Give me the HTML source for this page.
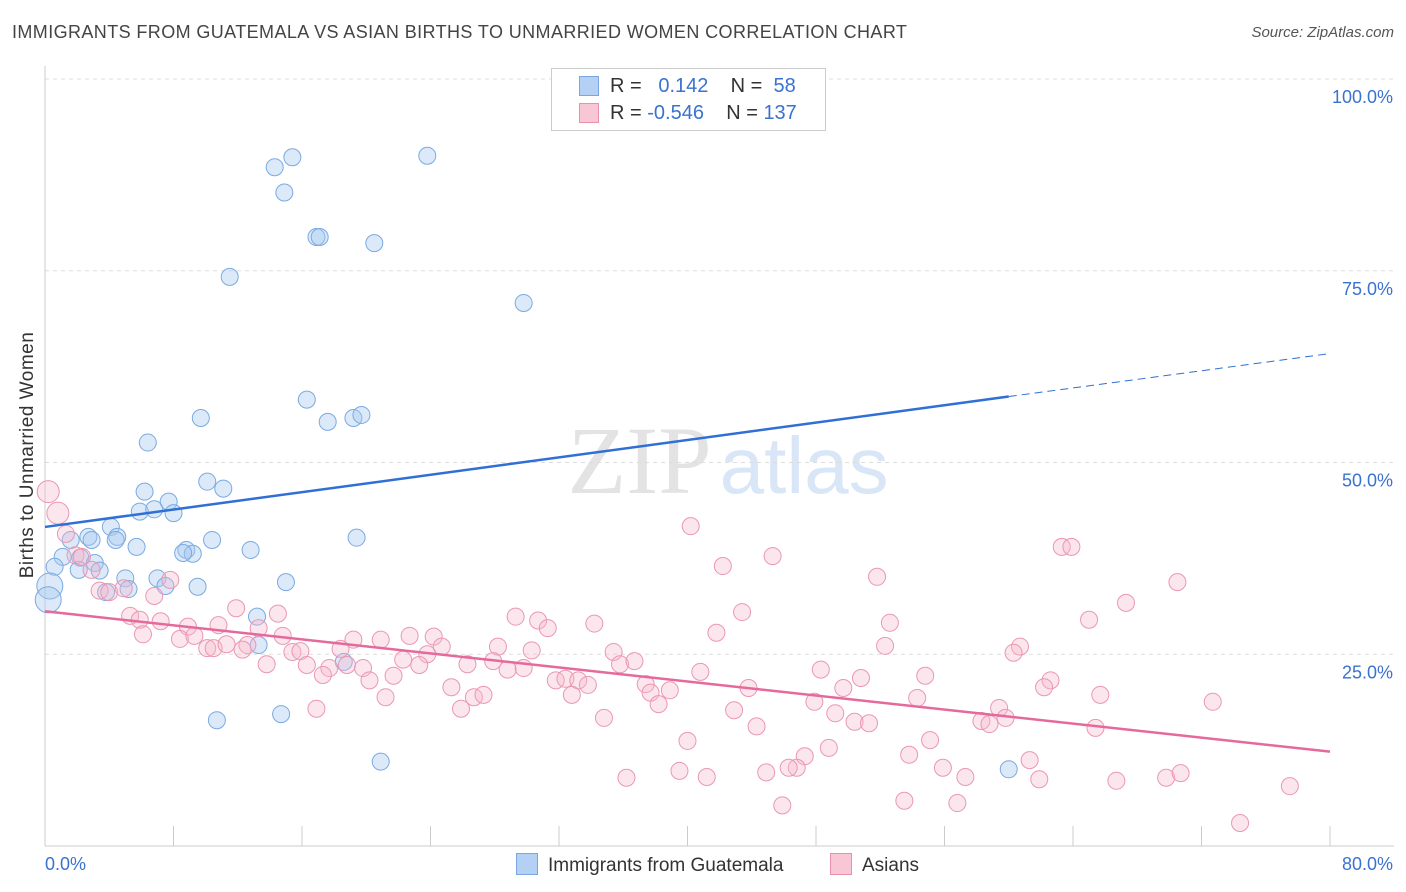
<!DOCTYPE html>
<html><head><meta charset="utf-8">
<style>
body{margin:0;background:#fff;font-family:"Liberation Sans",sans-serif;}
#wrap{position:relative;width:1406px;height:892px;overflow:hidden;}
.t{position:absolute;white-space:nowrap;}
</style></head>
<body>
<div id="wrap">
<div class="t" style="left:12px;top:22px;font-size:18px;letter-spacing:0.4px;color:#444;">IMMIGRANTS FROM GUATEMALA VS ASIAN BIRTHS TO UNMARRIED WOMEN CORRELATION CHART</div>
<div class="t" style="right:12px;top:24px;font-size:15px;color:#555;font-style:italic;">Source: ZipAtlas.com</div>
<div class="t" style="left:28px;top:455px;font-size:19px;letter-spacing:0.5px;color:#333;transform:translate(-50%,-50%) rotate(-90deg);">Births to Unmarried Women</div>
<svg id="svg" width="1406" height="892" style="position:absolute;left:0;top:0"></svg>
<div class="t" style="left:551px;top:68px;width:273px;height:61px;border:1px solid #ccc;background:#fff;font-size:20px;">
 <div style="position:absolute;left:27px;top:7px;width:18px;height:18px;background:#b5d0f5;border:1px solid #7aa7e0;"></div>
 <div class="t" style="left:58px;top:6px;color:#333;">R = &nbsp;&nbsp;<span style="color:#3a72d0">0.142</span>&nbsp;&nbsp;&nbsp; N = &nbsp;<span style="color:#3a72d0">58</span></div>
 <div style="position:absolute;left:27px;top:34px;width:18px;height:18px;background:#f9c6d6;border:1px solid #e891ad;"></div>
 <div class="t" style="left:58px;top:33px;color:#333;">R = <span style="color:#3a72d0">-0.546</span>&nbsp;&nbsp;&nbsp; N = <span style="color:#3a72d0">137</span></div>
</div>
<div class="t" style="left:516px;top:853px;font-size:19px;color:#333;"><span style="display:inline-block;width:20px;height:20px;background:#b5d0f5;border:1px solid #7aa7e0;vertical-align:-4px;margin-right:10px;"></span>Immigrants from Guatemala</div>
<div class="t" style="left:830px;top:853px;font-size:19px;color:#333;"><span style="display:inline-block;width:20px;height:20px;background:#f9c6d6;border:1px solid #e891ad;vertical-align:-4px;margin-right:10px;"></span>Asians</div>
</div>
<script>
const xTickLabels=["0.0%","80.0%"];
const yTicks=[25,50,75,100];
const yTickLabels=["25.0%","50.0%","75.0%","100.0%"];
const blueX=[14.3,15.4,14.9,23.8,16.9,17.1,20.5,11.5,29.8,16.3,9.7,17.6,19.2,19.7,6.4,10.1,11.1,6.2,7.7,5.9,6.8,8.0,4.1,2.7,1.6,2.9,4.5,4.4,10.4,19.4,5.7,8.8,9.2,8.6,12.8,1.1,2.2,3.1,0.6,2.1,3.4,5.0,7.0,7.5,5.2,9.5,15.0,0.3,0.2,3.8,13.2,13.3,18.6,10.7,14.7,20.9,60.0];
const blueY=[88.5,89.8,85.2,90.0,79.4,79.4,78.6,74.2,70.8,58.2,55.8,55.3,55.8,56.2,52.6,47.5,46.6,46.2,44.9,43.6,43.9,43.4,41.6,40.3,39.9,39.9,40.3,39.9,39.9,40.2,39.0,38.6,38.1,38.2,38.6,37.7,37.6,36.9,36.4,36.0,35.9,34.9,34.9,33.9,33.5,33.8,34.4,33.9,32.1,33.1,29.9,26.2,24.0,16.4,17.2,11.0,10.0];
const pinkX=[0.2,0.8,1.3,1.9,2.3,2.9,7.8,3.4,4.0,4.9,6.8,11.9,14.5,5.3,5.9,7.2,8.9,10.8,6.1,8.4,9.3,13.3,14.8,19.2,20.9,22.7,24.2,24.7,10.1,10.5,11.3,12.6,12.3,15.4,15.9,18.4,22.3,23.8,28.2,30.3,13.8,16.3,17.7,18.8,19.8,23.3,26.3,27.9,28.8,29.8,17.3,21.7,20.2,31.8,32.4,33.2,25.3,33.8,35.4,35.8,36.7,37.4,37.7,38.2,38.9,40.8,21.2,26.7,27.3,32.8,25.9,16.9,34.8,29.3,30.7,31.3,34.2,40.2,42.2,43.4,45.3,41.8,51.8,52.6,52.3,48.3,50.8,49.7,43.8,54.8,54.3,47.9,42.9,49.2,50.4,51.3,44.3,40.0,48.8,55.1,53.8,47.3,46.8,46.3,44.9,39.5,41.2,36.2,55.9,57.3,45.9,53.5,56.8,63.3,63.9,70.5,67.3,65.0,60.7,60.3,62.6,62.2,65.7,72.7,59.4,58.3,58.8,59.8,65.4,61.3,61.9,66.7,69.8,70.7,77.5,74.4];
const pinkY=[46.2,43.4,40.7,37.9,37.7,36.0,34.7,33.3,33.1,33.6,32.6,31.0,30.3,30.0,29.5,29.3,28.6,28.8,27.6,27.0,27.4,28.4,27.4,26.9,26.9,27.4,27.3,26.0,25.8,25.8,26.3,26.2,25.6,25.3,25.4,25.7,24.3,25.0,26.0,25.5,23.7,23.6,23.2,23.6,23.2,23.6,23.7,24.1,23.0,23.2,22.3,22.2,21.6,21.6,21.8,21.6,20.7,21.0,25.3,23.7,24.1,21.1,20.0,18.5,20.3,22.7,19.4,19.4,19.7,19.7,17.9,17.9,16.7,29.9,29.4,28.4,29.0,41.7,36.5,30.5,37.8,27.8,35.1,29.1,26.1,23.0,21.9,20.6,20.6,22.2,19.3,18.8,17.7,17.3,16.2,16.0,15.6,13.7,12.8,13.8,11.9,11.7,10.2,10.2,9.6,9.8,9.0,8.9,10.2,9.0,5.3,5.9,5.6,39.0,39.0,34.4,31.7,29.5,26.0,25.2,21.6,20.7,19.7,18.8,18.0,16.3,15.9,16.7,15.4,11.2,8.7,8.5,8.9,9.5,7.8,3.0];
const blueTrend=[[0,41.6],[60,58.6],[80,64.2]];
const pinkTrend=[[0,30.6],[80,12.3]];
const X=v=>45+v/80*1285, Y=v=>846-v/100*767;
const svg=document.getElementById('svg');const NS='http://www.w3.org/2000/svg';
function mk(tag,a,name){const e=document.createElementNS(NS,tag);for(const k in a)e.setAttribute(k,a[k]);


svg.appendChild(e);return e;}
let w=mk('text',{x:X(41.5),y:Y(46),'font-size':96,'font-family':'Liberation Serif',fill:'#e3e3e3','text-anchor':'end'},'watermark-zip');w.textContent='ZIP';
w=mk('text',{x:X(42),y:Y(46),'font-size':80,'font-family':'Liberation Sans',fill:'#d8e6f7'},'watermark-atlas');w.textContent='atlas';
yTicks.forEach((t,i)=>{mk('line',{x1:45,x2:1394,y1:Y(t),y2:Y(t),stroke:'#ddd','stroke-dasharray':'4,4'},'gridline');
const tx=mk('text',{x:1393,y:Y(t)+24,'font-size':18,fill:'#3a72d0','text-anchor':'end'},'y-tick-label');tx.textContent=yTickLabels[i];});
mk('line',{x1:45,x2:45,y1:66,y2:846,stroke:'#ccc'},'y-axis');
mk('line',{x1:45,x2:1394,y1:846,y2:846,stroke:'#ccc'},'x-axis');
for(let i=0;i<=10;i++)mk('line',{x1:X(i*8),x2:X(i*8),y1:826,y2:846,stroke:'#ccc'},'x-tick');
let l=mk('text',{x:45,y:870,'font-size':18,fill:'#3a72d0'},'x-tick-label');l.textContent=xTickLabels[0];
l=mk('text',{x:1393,y:870,'font-size':18,fill:'#3a72d0','text-anchor':'end'},'x-tick-label');l.textContent=xTickLabels[1];
blueX.forEach((v,i)=>{const big=v<0.5;mk('circle',{cx:X(v),cy:Y(blueY[i]),r:big?13:8.5,fill:'rgba(167,200,240,0.4)',stroke:'#7aaae2','stroke-width':1},'point-guatemala');});
pinkX.forEach((v,i)=>{const big=v<1;mk('circle',{cx:X(v),cy:Y(pinkY[i]),r:big?11:8.5,fill:'rgba(247,184,203,0.35)',stroke:'#eb97b2','stroke-width':1},'point-asians');});
mk('line',{x1:X(blueTrend[0][0]),y1:Y(blueTrend[0][1]),x2:X(blueTrend[1][0]),y2:Y(blueTrend[1][1]),stroke:'#2f6fd6','stroke-width':2.5},'trend-guatemala');
mk('line',{x1:X(blueTrend[1][0]),y1:Y(blueTrend[1][1]),x2:X(blueTrend[2][0]),y2:Y(blueTrend[2][1]),stroke:'#2f6fd6','stroke-width':1,'stroke-dasharray':'8,5'},'trend-guatemala-extension');
mk('line',{x1:X(pinkTrend[0][0]),y1:Y(pinkTrend[0][1]),x2:X(pinkTrend[1][0]),y2:Y(pinkTrend[1][1]),stroke:'#e5699a','stroke-width':2.5},'trend-asians');
</script>
</body></html>
